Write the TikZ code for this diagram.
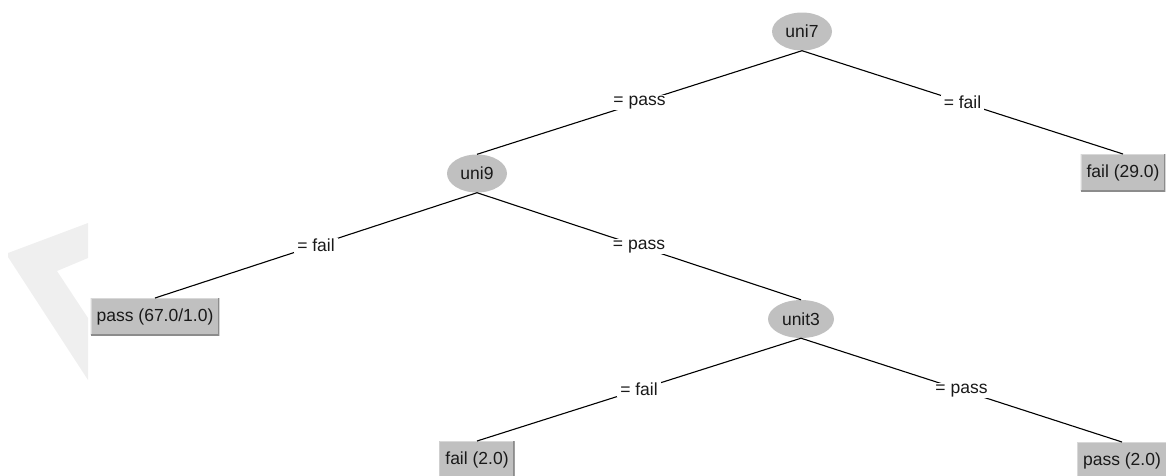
\documentclass[tikz,border=0pt]{standalone}
\usepackage{fontspec}
\setmainfont{Liberation Sans}
\usetikzlibrary{shapes.geometric}
\definecolor{nodegrey}{HTML}{C0C0C0}
\definecolor{edgedark}{HTML}{8C8C8C}
\definecolor{edgelight}{HTML}{D8D8D8}
\definecolor{markgrey}{HTML}{EFEFEF}
\begin{document}
\begin{tikzpicture}[x=1pt,y=-1pt,
  treefont/.style={font=\fontsize{17.5}{20}\selectfont, text=black!90},
  splitnode/.style={ellipse, fill=nodegrey, minimum width=60pt, minimum height=38pt, inner sep=0pt, treefont},
  leafbox/.style={rectangle, fill=nodegrey, minimum height=37pt, inner xsep=6pt, inner ysep=0pt, treefont,
    path picture={
      \draw[edgelight, line width=2pt] (path picture bounding box.south west) |- (path picture bounding box.north east);
      \draw[edgedark, line width=2.4pt] (path picture bounding box.south west) -| (path picture bounding box.north east);
    }},
  branch/.style={draw=black, line width=1.1pt},
  branchlabel/.style={fill=white, inner xsep=3pt, inner ysep=1pt, treefont}
]
\useasboundingbox (0,0) rectangle (1166,475);
\clip (0,0) rectangle (1166,475);

% faint chevron mark at the left margin
\fill[markgrey] (8,253) -- (88,223) -- (88,258) -- (57,271) -- (88,318) -- (88,380) -- (8,257) -- cycle;

% split nodes
\node[splitnode] (uni7)  at (802,31.5) {uni7};
\node[splitnode] (uni9)  at (477,173.5) {uni9};
\node[splitnode, minimum width=66pt] (unit3) at (801,319) {unit3};

% leaves (placed by their top edge)
\node[leafbox, anchor=north] (fail29) at (1123,154) {fail (29.0)};
\node[leafbox, anchor=north] (pass67) at (155,298) {pass (67.0/1.0)};
\node[leafbox, anchor=north] (fail2)  at (477,441) {fail (2.0)};
\node[leafbox, anchor=north] (pass2)  at (1122,442) {pass (2.0)};

% branches with their test values
\draw[branch] (uni7.south)  -- node[branchlabel] {= pass} (uni9.north);
\draw[branch] (uni7.south)  -- node[branchlabel] {= fail} (fail29.north);
\draw[branch] (uni9.south)  -- node[branchlabel] {= fail} (pass67.north);
\draw[branch] (uni9.south)  -- node[branchlabel] {= pass} (unit3.north);
\draw[branch] (unit3.south) -- node[branchlabel] {= fail} (fail2.north);
\draw[branch] (unit3.south) -- node[branchlabel] {= pass} (pass2.north);
\end{tikzpicture}
\end{document}
